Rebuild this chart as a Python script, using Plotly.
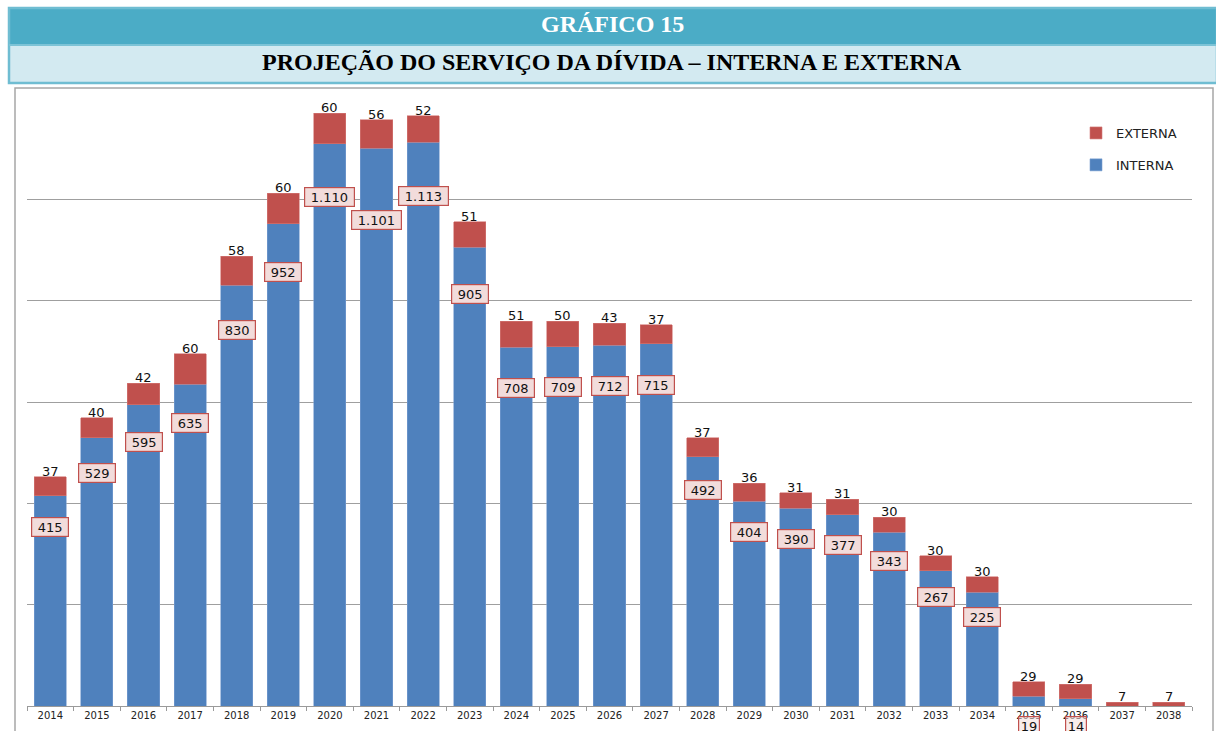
import plotly.graph_objects as go

# dados (R$ milhões)
anos = [str(a) for a in range(2014, 2039)]
interna = [415, 529, 595, 635, 830, 952, 1110, 1101, 1113, 905, 708, 709, 712,
           715, 492, 404, 390, 377, 343, 267, 225, 19, 14, 0, 0]
externa = [37, 40, 42, 60, 58, 60, 60, 56, 52, 51, 51, 50, 43, 37, 37, 36, 31,
           31, 30, 30, 30, 29, 29, 7, 7]

titulo = "GRÁFICO 15"
subtitulo = "PROJEÇÃO DO SERVIÇO DA DÍVIDA – INTERNA E EXTERNA"

AZUL = "#4f81bd"
VERMELHO = "#c0504d"
W, H = 1216, 731
L, R, T, B = 27, 24, 98, 25
PW, PH = W - L - R, H - T - B
NB = "\u00a0"


def px(x):
    return (x - L) / PW


def py(y):
    return (H - B - y) / PH


def fmt(v):
    return f"{v:,}".replace(",", ".")


fig = go.Figure()
fig.add_trace(go.Bar(x=anos, y=interna, name="INTERNA", marker_color=AZUL,
                     marker_line=dict(color="#7a9fd0", width=0.6),
                     legendgroup="i", legendrank=2))
fig.add_trace(go.Bar(x=anos, y=externa, name="EXTERNA", marker_color=VERMELHO,
                     marker_line=dict(color="#d47a78", width=0.6),
                     legendgroup="e", legendrank=1))

anns = []
# rótulos da dívida externa, acima da barra
for k, (i, e) in enumerate(zip(interna, externa)):
    anns.append(dict(x=k, y=i + e, text=fmt(e), showarrow=False,
                     yanchor="bottom", yshift=-4,
                     font=dict(family="DejaVu Sans", size=13, color="#111")))

# rótulos da dívida interna, em caixa logo abaixo do topo da barra
prev = None
for k, i in enumerate(interna):
    if i <= 0:
        continue
    box = dict(x=k, showarrow=False, text=NB + fmt(i) + NB,
               font=dict(family="DejaVu Sans", size=13, color="#111"),
               bgcolor="#f2dcdb", bordercolor=VERMELHO, borderwidth=1.2,
               borderpad=1.5)
    if i < 30:
        # valores pequenos: rótulo abaixo do eixo
        box.update(y=0, yanchor="top", yshift=-10, text=fmt(i),
                   bgcolor="rgba(242,220,219,0.55)")
        anns.append(box)
        prev = None
        continue
    shift = -(18 + 0.032 * i)
    ypix = i * PH / 1200 + shift
    if prev is not None and len(fmt(i)) > 3 and prev[1] > 3 \
            and abs(ypix - prev[0]) < 12:
        shift -= 19
        ypix -= 19
    box.update(y=i, yanchor="middle", yshift=shift)
    anns.append(box)
    prev = (ypix, len(fmt(i)))

# cabeçalho
anns.append(dict(xref="paper", yref="paper", x=px(612), y=py(24),
                 text="<b>" + titulo + "</b>", showarrow=False,
                 xanchor="center", yanchor="middle",
                 font=dict(family="Liberation Serif", size=24, color="white")))
anns.append(dict(xref="paper", yref="paper", x=px(612), y=py(62),
                 text="<b>" + subtitulo + "</b>", showarrow=False,
                 xanchor="center", yanchor="middle",
                 font=dict(family="Liberation Serif", size=24, color="black")))

shapes = [
    dict(type="rect", xref="paper", yref="paper", x0=px(9), x1=px(1216),
         y0=py(45), y1=py(8), fillcolor="#4bacc6", line_width=0, layer="below"),
    dict(type="rect", xref="paper", yref="paper", x0=px(9), x1=px(1216),
         y0=py(83), y1=py(45), fillcolor="#d3eaf1", line_width=0, layer="below"),
    dict(type="rect", xref="paper", yref="paper", x0=px(9), x1=px(1217),
         y0=py(83), y1=py(8), line=dict(color="#6fbdd2", width=2.5)),
    dict(type="line", xref="paper", yref="paper", x0=px(9), x1=px(1216),
         y0=py(45), y1=py(45), line=dict(color="#7cc3d6", width=2)),
    dict(type="rect", xref="paper", yref="paper", x0=px(15), x1=px(1213),
         y0=py(745), y1=py(88), line=dict(color="#a6a6a6", width=1.5),
         layer="below"),
]

fig.update_layout(
    width=W, height=H,
    margin=dict(l=L, r=R, t=T, b=B),
    barmode="stack", bargap=0.31,
    paper_bgcolor="white", plot_bgcolor="white",
    annotations=anns, shapes=shapes,
    legend=dict(x=px(1076), y=py(118), xanchor="left", yanchor="top",
                traceorder="grouped", tracegroupgap=12,
                font=dict(family="DejaVu Sans", size=13, color="#222"),
                bgcolor="rgba(0,0,0,0)"),
    xaxis=dict(type="category", range=[-0.5, len(anos) - 0.5],
               showline=True, linecolor="#9a9a9a", automargin=False,
               linewidth=1.2, ticks="outside", tickson="boundaries",
               ticklen=4, tickcolor="#9a9a9a", tickangle=0,
               tickfont=dict(family="DejaVu Sans", size=10, color="#222")),
    yaxis=dict(range=[0, 1200], dtick=200, showticklabels=False,
               showgrid=True, gridcolor="#9f9f9f", gridwidth=1,
               zeroline=False, automargin=False),
)

# sem a margem padrão do <body>, a figura ocupa a janela toda
fig.write_html("out.html", config={"displayModeBar": False},
               post_script="document.body.style.margin='0';")
